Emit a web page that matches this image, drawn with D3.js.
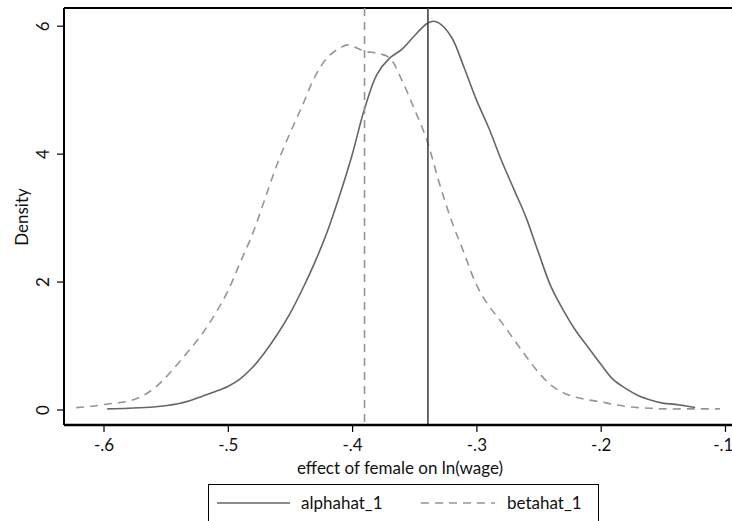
<!DOCTYPE html>
<html>
<head>
<meta charset="UTF-8">
<script src="https://d3js.org/d3.v7.min.js"></script>
<style>
  body { margin: 0; background: #fff; }
  text { font-family: Lato, "Open Sans", sans-serif; fill: #111; }
</style>
</head>
<body>
<svg id="chart" width="732" height="521"></svg>
<script>
// kernel density of alphahat_1
const alphaX = [-0.597,-0.58,-0.56,-0.54,-0.53,-0.52,-0.51,-0.50,-0.49,-0.48,-0.47,-0.46,-0.45,-0.44,-0.43,-0.42,-0.41,-0.40,-0.39,-0.38,-0.37,-0.36,-0.35,-0.34,-0.335,-0.33,-0.32,-0.31,-0.30,-0.29,-0.28,-0.27,-0.26,-0.25,-0.24,-0.23,-0.22,-0.21,-0.20,-0.19,-0.18,-0.17,-0.16,-0.15,-0.14,-0.13,-0.124];
const alphaY = [0.01,0.02,0.04,0.09,0.14,0.21,0.28,0.36,0.48,0.66,0.90,1.18,1.50,1.88,2.30,2.78,3.35,3.98,4.70,5.24,5.49,5.63,5.84,6.03,6.07,6.04,5.82,5.35,4.84,4.40,3.90,3.45,3.00,2.45,1.92,1.55,1.23,0.97,0.71,0.47,0.33,0.22,0.15,0.10,0.08,0.05,0.03];

// kernel density of betahat_1
const betaX = [-0.622,-0.61,-0.595,-0.58,-0.57,-0.56,-0.55,-0.54,-0.53,-0.52,-0.51,-0.50,-0.49,-0.48,-0.47,-0.46,-0.45,-0.44,-0.43,-0.42,-0.41,-0.403,-0.39,-0.38,-0.37,-0.36,-0.35,-0.34,-0.33,-0.32,-0.31,-0.30,-0.29,-0.28,-0.27,-0.26,-0.25,-0.24,-0.23,-0.22,-0.21,-0.20,-0.19,-0.18,-0.17,-0.16,-0.15,-0.13,-0.104];
const betaY = [0.03,0.05,0.09,0.13,0.20,0.32,0.50,0.72,0.95,1.20,1.50,1.85,2.30,2.75,3.30,3.85,4.32,4.75,5.20,5.50,5.65,5.70,5.60,5.57,5.50,5.15,4.70,4.22,3.55,2.95,2.45,1.95,1.62,1.37,1.10,0.83,0.58,0.38,0.26,0.19,0.15,0.12,0.08,0.05,0.03,0.02,0.01,0.01,0.01];

// means drawn as vertical lines
const alphaMean = -0.339;
const betaMean = -0.39;

const xTicks = [-0.6,-0.5,-0.4,-0.3,-0.2,-0.1];
const xTickLabels = ["-.6","-.5","-.4","-.3","-.2","-.1"];
const yTicks = [0,2,4,6];

const seriesNames = ["alphahat_1","betahat_1"];

const svg = d3.select("#chart");

const x = d3.scaleLinear().domain([-0.6,-0.1]).range([103.5,725]);
const y = d3.scaleLinear().domain([0,6]).range([409.5,25.7]);

const pLeft = 64, pTop = 8, pBottom = 425, pRight = 732;
const fs = "17px";

// frame: top line
svg.append("line").attr("x1",pLeft).attr("x2",pRight).attr("y1",pTop).attr("y2",pTop)
  .attr("stroke","#000").attr("stroke-width",2);

const line = d3.line().curve(d3.curveCatmullRom);

const alphaPts = alphaX.map((v,i)=>[x(v), y(alphaY[i])]);
const betaPts = betaX.map((v,i)=>[x(v), y(betaY[i])]);

svg.append("path").attr("d", line(betaPts)).attr("fill","none")
  .attr("stroke","#959595").attr("stroke-width",1.6).attr("stroke-dasharray","8,6");
svg.append("path").attr("d", line(alphaPts)).attr("fill","none")
  .attr("stroke","#666").attr("stroke-width",1.6);

// mean lines
svg.append("line").attr("x1",x(betaMean)).attr("x2",x(betaMean)).attr("y1",pTop).attr("y2",pBottom)
  .attr("stroke","#959595").attr("stroke-width",1.6).attr("stroke-dasharray","8,6");
svg.append("line").attr("x1",x(alphaMean)).attr("x2",x(alphaMean)).attr("y1",pTop).attr("y2",pBottom)
  .attr("stroke","#444").attr("stroke-width",1.6);

// axes
const xAxis = svg.append("g").attr("transform",`translate(0,${pBottom})`)
  .call(d3.axisBottom(x).tickValues(xTicks).tickFormat((d,i)=>xTickLabels[i]).tickSize(7).tickPadding(7));
xAxis.select(".domain").attr("d",`M${pLeft},0H${pRight}`).attr("stroke","#000").attr("stroke-width",2.4);
xAxis.selectAll(".tick line").attr("stroke","#000").attr("stroke-width",1.2);
xAxis.selectAll(".tick text").style("font-size",fs).attr("fill","#111");
// last label sits at the right edge
xAxis.selectAll(".tick text").filter((d,i)=>i===xTicks.length-1).attr("text-anchor","end").attr("dx",8);

const yAxis = svg.append("g").attr("transform",`translate(${pLeft},0)`)
  .call(d3.axisLeft(y).tickValues(yTicks).tickFormat(d3.format("d")).tickSize(7));
yAxis.select(".domain").attr("d",`M0,${pTop}V${pBottom}`).attr("stroke","#000").attr("stroke-width",2);
yAxis.selectAll(".tick line").attr("stroke","#000").attr("stroke-width",1.2);
yAxis.selectAll(".tick text")
  .attr("transform","rotate(-90)").attr("x",0).attr("y",-15).attr("dy",0)
  .attr("text-anchor","middle")
  .style("font-size",fs).attr("fill","#111");

// titles
svg.append("text").attr("x",400).attr("y",474).attr("text-anchor","middle")
  .style("font-size",fs).text("effect of female on ln(wage)");
svg.append("text").attr("transform","translate(28,217) rotate(-90)").attr("text-anchor","middle")
  .style("font-size",fs).text("Density");

// legend
const lg = svg.append("g");
lg.append("rect").attr("x",208.5).attr("y",484.5).attr("width",390).attr("height",40)
  .attr("fill","#fff").attr("stroke","#000").attr("stroke-width",1);
lg.append("line").attr("x1",217).attr("x2",290).attr("y1",503).attr("y2",503)
  .attr("stroke","#666").attr("stroke-width",1.6);
lg.append("text").attr("x",301).attr("y",509).style("font-size",fs).text(seriesNames[0]);
lg.append("line").attr("x1",421).attr("x2",495).attr("y1",503).attr("y2",503)
  .attr("stroke","#959595").attr("stroke-width",1.6).attr("stroke-dasharray","8,6");
lg.append("text").attr("x",507).attr("y",509).style("font-size",fs).text(seriesNames[1]);
</script>
</body>
</html>
